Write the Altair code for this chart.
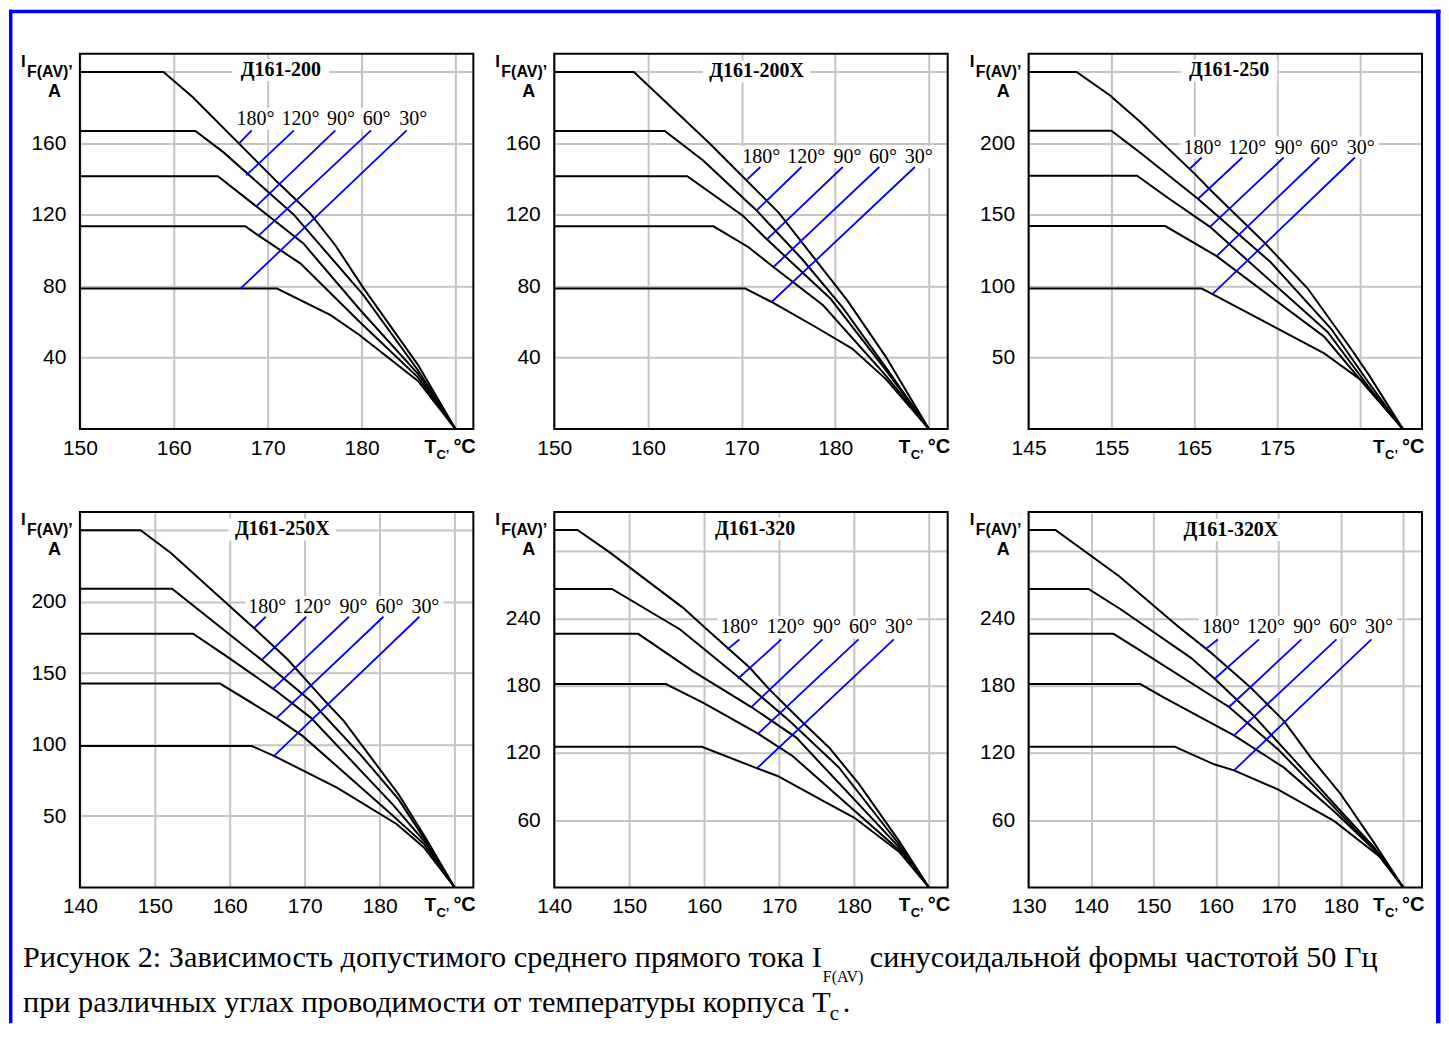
import altair as alt
import pandas as pd

SANS = "Liberation Sans"
SERIF = "Liberation Serif"
GRID = "#c4c4c4"
BLUE = "#0000ff"

ANGLES = ["180", "120", "90", "60", "30"]
ANGLE_LABELS = ["180°", "120°", "90°", "60°", "30°"]

TITLES = ["Д161-200", "Д161-200X", "Д161-250", "Д161-250X", "Д161-320", "Д161-320X"]
X_DOMAINS = [[150, 191.9], [150, 192.0], [145, 192.5], [140, 192.5], [140, 192.5], [130, 193.0]]
Y_DOMAINS = [[0, 210.3], [0, 210.3], [0, 262.8], [0, 262.8], [0, 335], [0, 335]]
X_TICKS = [
    [150, 160, 170, 180, 190],
    [150, 160, 170, 180, 190],
    [145, 155, 165, 175, 185],
    [140, 150, 160, 170, 180, 190],
    [140, 150, 160, 170, 180, 190],
    [130, 140, 150, 160, 170, 180, 190],
]
X_LABEL_MAX = [180, 180, 175, 180, 180, 180]
Y_TICKS = [
    [40, 80, 120, 160, 200],
    [40, 80, 120, 160, 200],
    [50, 100, 150, 200, 250],
    [50, 100, 150, 200, 250],
    [60, 120, 180, 240, 300],
    [60, 120, 180, 240, 300],
]
Y_LABEL_MAX = [160, 160, 200, 200, 240, 240]

# ---- curves: (Tc, I) points per conduction angle ----
P1_CURVES = {
    "180": [(150, 200), (158.9, 200), (162.0, 186), (171.0, 138.5), (174.5, 121), (177.2, 103), (180.2, 79), (186.0, 36), (190, 0)],
    "120": [(150, 167), (162.3, 167), (165.3, 155), (172.8, 120), (180.2, 75), (186.0, 33), (190, 0)],
    "90": [(150, 141.7), (164.7, 141.7), (173.8, 104), (179.8, 67), (186.0, 31), (190, 0)],
    "60": [(150, 113.6), (167.6, 113.6), (169.0, 108.5), (173.5, 92.7), (179.8, 60), (186.0, 29), (190, 0)],
    "30": [(150, 78.7), (171.0, 78.7), (176.7, 63.8), (179.8, 52.6), (186.0, 27), (190, 0)],
}
P2_CURVES = {
    "180": [(150, 200), (158.5, 200), (166.6, 160), (174.0, 121), (177.8, 95.5), (181.3, 72), (185.4, 40.5), (190, 0)],
    "120": [(150, 167), (161.8, 167), (165.9, 150.5), (171.6, 122.5), (176.5, 95), (180.8, 68), (185.6, 33), (190, 0)],
    "90": [(150, 141.7), (164.2, 141.7), (170.1, 119.7), (172.7, 106.3), (179.5, 73), (185.4, 33), (190, 0)],
    "60": [(150, 113.6), (167.0, 113.6), (170.7, 102), (173.4, 90.8), (178.7, 69.4), (185.4, 30), (190, 0)],
    "30": [(150, 78.7), (170.4, 78.7), (173.2, 71.2), (177.9, 57.2), (181.8, 45.1), (185.4, 28), (190, 0)],
}
P3_CURVES = {
    "180": [(145, 250), (150.8, 250), (154.8, 233.7), (158.5, 215), (165.0, 179), (167.2, 166), (173.4, 131), (178.7, 98.4), (183.9, 56.4), (186.1, 37.8), (190.2, 0)],
    "120": [(145, 208.8), (155.0, 208.8), (158.6, 192.9), (165.4, 161.4), (174.2, 117), (181.5, 70.4), (186.0, 33), (190.2, 0)],
    "90": [(145, 177.3), (158.1, 177.3), (161.8, 161.9), (166.9, 141.6), (181.1, 68), (186.0, 30), (190.2, 0)],
    "60": [(145, 142.1), (161.5, 142.1), (167.7, 121.1), (180.7, 64.6), (186.0, 28), (190.2, 0)],
    "30": [(145, 98.4), (165.9, 98.4), (167.2, 94.5), (180.7, 53), (185.2, 34), (190.2, 0)],
}
P4_CURVES = {
    "180": [(140, 250), (148.1, 250), (152.1, 234.3), (163.4, 180.7), (167.7, 159.7), (172.5, 131.7), (175.2, 116.6), (182.5, 65.3), (186.1, 35), (190, 0)],
    "120": [(140, 209.1), (152.3, 209.1), (164.2, 159.5), (170.8, 130.5), (177.4, 93.2), (182.5, 61.8), (186.1, 33), (190, 0)],
    "90": [(140, 177.6), (155.1, 177.6), (159.2, 163.2), (165.9, 138.7), (170.8, 118.9), (181.7, 58.3), (186.1, 31.5), (190, 0)],
    "60": [(140, 142.7), (158.7, 142.7), (166.3, 118.4), (169.7, 106.1), (181.4, 52), (186.0, 30), (190, 0)],
    "30": [(140, 99.1), (162.9, 99.1), (165.9, 92.1), (174.3, 69.9), (182.3, 44.3), (185.9, 28), (190, 0)],
}
P5_CURVES = {
    "180": [(140, 319), (143.1, 319), (147.5, 298.5), (157.2, 249.5), (159.9, 233), (166.1, 196), (168.7, 176.7), (173.2, 147), (176.7, 124.7), (180.7, 92), (186.0, 41.6), (190, 0)],
    "120": [(140, 266.4), (147.7, 266.4), (156.8, 230.2), (164.6, 187.5), (171.4, 148.5), (178.0, 107), (186.0, 38.6), (190, 0)],
    "90": [(140, 226.3), (151.2, 226.3), (158.5, 193.1), (166.3, 161), (172.3, 133.7), (186.0, 36), (190, 0)],
    "60": [(140, 181.5), (154.9, 181.5), (159.9, 164.8), (167.2, 137.2), (171.8, 117.3), (186.0, 33.5), (190, 0)],
    "30": [(140, 125.6), (159.7, 125.6), (167.0, 106.5), (169.8, 99.5), (176.3, 75.7), (180.0, 62.4), (186.0, 32), (190, 0)],
}
P6_CURVES = {
    "180": [(130, 319), (134.3, 319), (144.5, 277.7), (153.9, 233), (158.9, 210.9), (165.6, 178.2), (170.9, 148.5), (175.2, 115.8), (180.0, 83.2), (185.3, 40), (190, 0)],
    "120": [(130, 266.4), (139.6, 266.4), (144.8, 248), (156.0, 204.9), (159.8, 186.2), (166.0, 153.5), (173.0, 111), (180.0, 68), (185.3, 36), (190, 0)],
    "90": [(130, 226.3), (143.6, 226.3), (147.2, 213.8), (162.1, 161), (170.0, 123), (178.0, 77), (185.3, 34), (190, 0)],
    "60": [(130, 181.5), (147.9, 181.5), (151.7, 169.3), (162.9, 135.7), (170.9, 106.9), (178.9, 68), (186.4, 28), (190, 0)],
    "30": [(130, 125.6), (153.4, 125.6), (159.7, 109.9), (162.9, 104.5), (169.9, 87.6), (178.9, 59.4), (186.4, 26.7), (190, 0)],
}
CURVES = [P1_CURVES, P2_CURVES, P3_CURVES, P4_CURVES, P5_CURVES, P6_CURVES]

# ---- blue leader lines (T1, I1) -> (T2, I2), angle order 180..30 ----
P1_LEADERS = [(168.3, 167.3, 166.9, 159.8), (172.8, 167.3, 167.7, 142.1), (177.2, 167.3, 168.8, 124.9), (181.0, 167.3, 169.0, 108.2), (184.8, 167.3, 167.1, 78.7)]
P2_LEADERS = [(172.0, 146.8, 170.6, 139.9), (176.4, 146.8, 171.6, 122.5), (180.8, 146.8, 172.7, 106.3), (184.7, 146.8, 173.4, 90.8), (188.5, 146.8, 173.2, 71.2)]
P3_LEADERS = [(165.9, 190.1, 164.4, 181.9), (170.8, 190.1, 165.5, 161.4), (175.8, 190.1, 166.9, 141.6), (180.1, 190.1, 167.7, 121.1), (184.4, 190.1, 167.2, 94.5)]
P4_LEADERS = [(164.8, 189.5, 163.2, 181.4), (170.2, 189.5, 164.2, 159.0), (175.9, 189.5, 165.8, 139.2), (180.5, 189.5, 166.2, 118.4), (185.3, 189.5, 165.8, 91.6)]
P5_LEADERS = [(164.7, 221.3, 163.1, 212.4), (170.3, 221.3, 164.5, 186.2), (175.8, 221.3, 166.3, 161.0), (180.6, 221.3, 167.2, 137.2), (185.3, 221.3, 167.0, 106.0)]
P6_LEADERS = [(160.3, 221.3, 158.4, 212.9), (166.9, 221.3, 159.8, 186.2), (173.7, 221.3, 162.1, 161.0), (179.3, 221.3, 162.9, 135.7), (184.9, 221.3, 162.9, 104.5)]
LEADERS = [P1_LEADERS, P2_LEADERS, P3_LEADERS, P4_LEADERS, P5_LEADERS, P6_LEADERS]

# ---- angle label positions ----
LABEL_X = [
    [168.7, 173.5, 177.8, 181.6, 185.5],
    [172.1, 176.9, 181.3, 185.1, 188.9],
    [166.0, 171.4, 176.4, 180.7, 185.1],
    [165.0, 171.0, 176.5, 181.3, 186.1],
    [164.7, 170.9, 176.4, 181.2, 186.0],
    [160.8, 168.0, 174.6, 180.4, 186.1],
]
LABEL_Y = [173.8, 152.4, 196.9, 196.3, 232.3, 232.3]
TITLE_X = [171.4, 171.6, 169.2, 167.0, 166.8, 162.4]
TITLE_Y = [201.0, 200.3, 251.0, 250.6, 320.0, 319.0]

# ---- caption ----
CAPTION_1A = "Рисунок 2: Зависимость допустимого среднего прямого тока I"
CAPTION_1SUB = "F(AV)"
CAPTION_1B = "синусоидальной формы частотой 50 Гц"
CAPTION_2A = "при различных углах проводимости от температуры корпуса T"
CAPTION_2SUB = "c"
CAPTION_2B = "."

PW, PH = 394, 376
ONE = alt.Data(values=[{"k": 1}])


def txt(text, x, y, size, font=SANS, weight="bold", align="left"):
    return alt.Chart(ONE).mark_text(
        text=text, font=font, fontSize=size, fontWeight=weight, color="black",
        align=align, baseline="alphabetic"
    ).encode(x=alt.value(x), y=alt.value(y))


def band(x, x2, y, y2):
    # blue page frame piece (decoration), drawn as a filled rect so its bounds are exact
    return alt.Chart(ONE).mark_rect(color=BLUE, strokeWidth=0).encode(
        x=alt.value(x), x2=alt.value(x2), y=alt.value(y), y2=alt.value(y2)
    )


def caption_layers():
    # positioned relative to the bottom-left panel's plot area
    return [
        txt(CAPTION_1A, -57, 456, 30.3, font=SERIF, weight="normal"),
        txt(CAPTION_1SUB, 744, 471, 16, font=SERIF, weight="normal"),
        txt(CAPTION_1B, 791, 456, 30.3, font=SERIF, weight="normal"),
        txt(CAPTION_2A, -57, 501, 30.3, font=SERIF, weight="normal"),
        txt(CAPTION_2SUB, 751, 509, 21, font=SERIF, weight="normal"),
        txt(CAPTION_2B, 764, 501, 30.3, font=SERIF, weight="normal"),
        band(-71, 1362.5, -503, -499.5),
        band(-71, -67.5, -503, 512),
        band(1358, 1362.5, -503, 512),
    ]


def make_panel(k):
    xs = alt.Scale(domain=X_DOMAINS[k], nice=False, zero=False)
    ys = alt.Scale(domain=Y_DOMAINS[k], nice=False, zero=False)
    xax = alt.Axis(
        values=X_TICKS[k], labelExpr=f"datum.value > {X_LABEL_MAX[k]} ? '' : datum.label",
        format="d", title=None, grid=True, gridColor=GRID, gridWidth=2, ticks=False, tickSize=0,
        domain=False, labelFont=SANS, labelFontSize=21, labelColor="black", labelPadding=8,
        labelFlush=False, labelOverlap=False, labelBound=False,
    )
    yax = alt.Axis(
        values=Y_TICKS[k], labelExpr=f"datum.value > {Y_LABEL_MAX[k]} ? '' : datum.label",
        format="d", title=None, grid=True, gridColor=GRID, gridWidth=2, ticks=False, tickSize=0,
        domain=False, labelFont=SANS, labelFontSize=21, labelColor="black", labelPadding=14,
        labelOverlap=False, labelBound=False,
    )

    def X(f):
        return alt.X(f, type="quantitative", scale=xs, axis=xax, title=None)

    def Y(f):
        return alt.Y(f, type="quantitative", scale=ys, axis=yax, title=None)

    rows = []
    for a in ANGLES:
        for j, (t, i) in enumerate(CURVES[k][a]):
            rows.append({"angle": a, "seq": j, "T": t, "I": i})
    cdf = pd.DataFrame(rows)

    ldf = pd.DataFrame(
        [{"angle": a, "T": l[0], "I": l[1], "T2": l[2], "I2": l[3]} for a, l in zip(ANGLES, LEADERS[k])]
    )
    tdf = pd.DataFrame({"label": ANGLE_LABELS, "T": LABEL_X[k], "I": [LABEL_Y[k]] * 5})
    bdf = pd.DataFrame([{"T": LABEL_X[k][0], "T2": LABEL_X[k][-1], "I": LABEL_Y[k]}])
    hdf = pd.DataFrame([{"title": TITLES[k], "T": TITLE_X[k], "I": TITLE_Y[k]}])
    half = 5.3 * len(TITLES[k]) + 6

    curves = alt.Chart(cdf).mark_line(color="black", strokeWidth=2).encode(
        x=X("T"), y=Y("I"), detail="angle:N", order="seq:Q",
    )
    label_box = alt.Chart(bdf).mark_rect(
        color="white", xOffset=-22, x2Offset=18, yOffset=-11, y2Offset=11
    ).encode(x=X("T"), x2="T2:Q", y=Y("I"), y2="I:Q")
    title_box = alt.Chart(hdf).mark_rect(
        color="white", xOffset=-half, x2Offset=half, yOffset=-11, y2Offset=11
    ).encode(x=X("T"), x2="T:Q", y=Y("I"), y2="I:Q")
    leaders = alt.Chart(ldf).mark_rule(color=BLUE, strokeWidth=1.8).encode(
        x=X("T"), x2="T2:Q", y=Y("I"), y2="I2:Q",
    )
    labels = alt.Chart(tdf).mark_text(
        font=SERIF, fontSize=20, color="black", baseline="middle", align="center"
    ).encode(x=X("T"), y=Y("I"), text="label:N")
    title = alt.Chart(hdf).mark_text(
        font=SERIF, fontSize=20, fontWeight="bold", color="black", baseline="middle", align="center"
    ).encode(x=X("T"), y=Y("I"), text="title:N")
    frame = alt.Chart(ONE).mark_rect(filled=False, stroke="black", strokeWidth=2).encode(
        x=alt.value(0), x2=alt.value("width"), y=alt.value(0), y2=alt.value("height")
    )
    axis_texts = [
        txt("I", -59, 13, 17),
        txt("F(AV)’", -53, 23, 16),
        txt("A", -25.5, 43, 18, align="center"),
        txt("T", 345, 400, 19),
        txt("C’", 357, 406, 13),
        txt("°C", 374, 400, 20),
    ]
    extra = caption_layers() if k == 3 else []
    return alt.layer(
        curves, label_box, title_box, leaders, labels, title, *axis_texts, frame, *extra
    ).properties(width=PW, height=PH)


chart = (
    alt.concat(
        *[make_panel(k) for k in range(6)],
        columns=3,
        spacing={"row": 83, "column": 81},
        bounds="flush",
    )
    .properties(padding=0, background="white")
    .configure_view(stroke="transparent")
)

chart.save("out.html", embed_options={"renderer": "svg", "actions": False})
